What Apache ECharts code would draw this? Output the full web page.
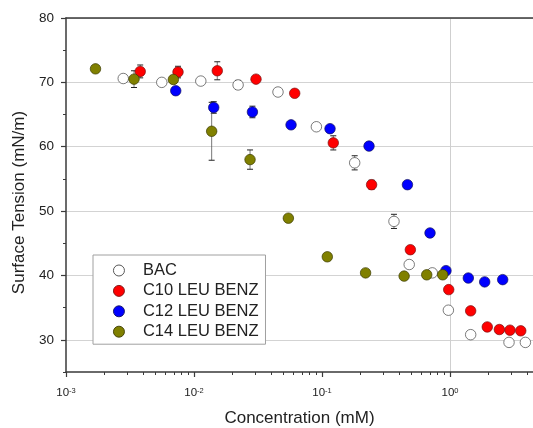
<!DOCTYPE html>
<html>
<head>
<meta charset="utf-8">
<script src="https://cdn.jsdelivr.net/npm/echarts@6/dist/echarts.min.js"></script>
<style>
  html, body { margin: 0; padding: 0; background: #fff; }
  #chart { width: 533px; height: 428px; }
</style>
</head>
<body>
<div id="chart"></div>
<script>
// series names (legend order)
const seriesNames = ['BAC', 'C10 LEU BENZ', 'C12 LEU BENZ', 'C14 LEU BENZ'];

// concentration (mM), surface tension (mN/m), error bar (+/-)
const bacConc    = [0.0028, 0.0056, 0.0113, 0.0221, 0.0453, 0.0904, 0.18, 0.365, 0.48, 0.727, 0.971, 1.45, 2.89, 3.88];
const bacTension = [70.6, 70.0, 70.2, 69.6, 68.5, 63.1, 57.5, 48.4, 41.7, 40.4, 34.6, 30.8, 29.6, 29.6];
const bacErr     = [0, 0, 0.3, 0.7, 0, 0, 1.1, 1.1, 0.6, 0.3, 0, 0.5, 0.3, 0.3];

const c10Conc    = [0.0038, 0.0075, 0.0152, 0.0305, 0.0612, 0.1225, 0.244, 0.49, 0.977, 1.45, 1.955, 2.43, 2.94, 3.57];
const c10Tension = [71.7, 71.6, 71.8, 70.5, 68.3, 60.6, 54.1, 44.0, 37.8, 34.5, 32.0, 31.6, 31.5, 31.4];
const c10Err     = [1.0, 0.9, 1.4, 0, 0, 1.1, 0.7, 0, 0, 0, 0, 0.6, 0, 0];

const c12Conc    = [0.0072, 0.01426, 0.0286, 0.0573, 0.1155, 0.233, 0.465, 0.698, 0.93, 1.39, 1.866, 2.58];
const c12Tension = [68.7, 66.1, 65.4, 63.4, 62.8, 60.1, 54.1, 46.6, 40.75, 39.6, 39.0, 39.35];
const c12Err     = [0, 0.9, 0.9, 0, 0, 0, 0, 0, 0, 0, 0, 0];

const c14Conc    = [0.0017, 0.0034, 0.0069, 0.01374, 0.0274, 0.0546, 0.11, 0.219, 0.438, 0.658, 0.877];
const c14Tension = [72.1, 70.5, 70.45, 62.4, 58.0, 48.9, 42.9, 40.4, 39.9, 40.1, 40.1];
const c14Err     = [0, 1.3, 0.6, 4.5, 1.5, 0, 0, 0, 0, 0, 0];

// axis settings
const xMin = 0.001;
const xMax = 4.45;
const yMin = 25;
const yMax = 80;
const yMajorTicks = [30, 40, 50, 60, 70, 80];
const minorMantissas = [2, 3, 4, 5, 6, 7, 8, 9];
const decades = [-3, -2, -1, 0];

const fontFamily = '"Liberation Sans", Arial, sans-serif';
const axisColor = '#3a3a3a';
const textColor = '#222';

// minor tick positions in log10 space (drawn on an overlay value axis)
let minorTickValues = [];
decades.forEach(d => {
    minorMantissas.forEach(m => {
        let v = Math.log10(m) + d;
        if (v <= Math.log10(xMax)) minorTickValues.push(v);
    });
});

function toPoints(conc, tension){
    return conc.map((c, i) => [c, tension[i]]);
}

function toErrors(conc, tension, err){
    let out = [];
    conc.forEach((c, i) => {
        if (err[i] > 0) out.push([c, tension[i], err[i]]);
    });
    return out;
}

function renderErrorBar(params, api){
    let x = api.value(0);
    let y = api.value(1);
    let e = api.value(2);
    let top = api.coord([x, y + e]);
    let bottom = api.coord([x, y - e]);
    let half = 3;
    let style = { stroke: '#222', lineWidth: 1 };
    return {
        type: 'group',
        children: [
            { type: 'line', shape: { x1: top[0], y1: top[1], x2: bottom[0], y2: bottom[1] }, style: { stroke: '#555', lineWidth: 0.8 } },
            { type: 'line', shape: { x1: top[0] - half, y1: top[1], x2: top[0] + half, y2: top[1] }, style: style },
            { type: 'line', shape: { x1: bottom[0] - half, y1: bottom[1], x2: bottom[0] + half, y2: bottom[1] }, style: style }
        ]
    };
}

function errorSeries(conc, tension, err){
    return {
        type: 'custom',
        renderItem: renderErrorBar,
        xAxisIndex: 0,
        yAxisIndex: 0,
        encode: { x: 0, y: 1 },
        data: toErrors(conc, tension, err),
        z: 1,
        silent: true
    };
}

function scatterSeries(name, conc, tension, fill, border){
    return {
        name: name,
        type: 'scatter',
        xAxisIndex: 0,
        yAxisIndex: 0,
        symbol: 'circle',
        symbolSize: 10.5,
        itemStyle: { color: fill, borderColor: border, borderWidth: 0.7, opacity: 1 },
        data: toPoints(conc, tension),
        z: 3
    };
}

const chart = echarts.init(document.getElementById('chart'));

const option = {
    backgroundColor: '#fff',
    animation: false,
    textStyle: { fontFamily: fontFamily },
    grid: { left: 66, top: 18, right: 0, bottom: 56, containLabel: false, outerBoundsMode: 'none' },
    legend: {
        data: seriesNames,
        orient: 'vertical',
        left: 93,
        top: 255,
        itemWidth: 38,
        itemHeight: 11,
        itemGap: 3.4,
        padding: [7, 7, 4, 20],
        backgroundColor: '#fff',
        borderColor: '#a0a0a0',
        borderWidth: 1,
        borderRadius: 0,
        itemStyle: { borderWidth: 0.9 },
        textStyle: { fontSize: 16.5, lineHeight: 17, color: textColor, fontFamily: fontFamily }
    },
    xAxis: [
        {
            type: 'log',
            logBase: 10,
            min: xMin,
            max: xMax,
            position: 'bottom',
            name: 'Concentration (mM)',
            nameLocation: 'middle',
            nameGap: 38,
            nameTextStyle: { fontSize: 17, color: textColor, fontFamily: fontFamily },
            axisLine: { show: true, onZero: false, lineStyle: { color: axisColor, width: 1.5 } },
            axisTick: { show: true, inside: false, length: 5, lineStyle: { color: axisColor, width: 1.2 } },
            axisLabel: {
                margin: 15,
                showMaxLabel: false,
                formatter: v => '{b|10}{s|' + Math.round(Math.log10(v)) + '}',
                rich: {
                    b: { fontSize: 11.5, color: textColor, fontFamily: fontFamily },
                    s: { fontSize: 7.5, color: textColor, fontFamily: fontFamily, verticalAlign: 'top' }
                }
            },
            splitLine: {
                show: true,
                lineStyle: { color: ['rgba(0,0,0,0)', 'rgba(0,0,0,0)', 'rgba(0,0,0,0)', '#cfcfcf', 'rgba(0,0,0,0)'], width: 1 }
            }
        },
        {
            // overlay axis only for the minor ticks of the log scale
            type: 'value',
            min: -3,
            max: Math.log10(xMax),
            position: 'bottom',
            axisLine: { show: false, onZero: false },
            axisTick: { show: true, inside: false, length: 3, customValues: minorTickValues, lineStyle: { color: axisColor, width: 1 } },
            axisLabel: { show: false },
            splitLine: { show: false }
        },
        {
            // frame line on top
            type: 'value',
            min: 0,
            max: 1,
            position: 'top',
            axisLine: { show: true, onZero: false, lineStyle: { color: axisColor, width: 1.5 } },
            axisTick: { show: false },
            axisLabel: { show: false },
            splitLine: { show: false }
        }
    ],
    yAxis: [
        {
            type: 'value',
            min: yMin,
            max: yMax,
            interval: 5,
            name: 'Surface Tension (mN/m)',
            nameLocation: 'middle',
            nameGap: 30,
            nameTextStyle: { fontSize: 17, color: textColor, fontFamily: fontFamily, padding: [0, 15, 0, 0] },
            axisLine: { show: true, onZero: false, lineStyle: { color: axisColor, width: 1.5 } },
            axisTick: { show: true, inside: false, length: 3, lineStyle: { color: axisColor, width: 1 } },
            axisLabel: {
                margin: 12,
                fontSize: 13.5,
                color: textColor,
                formatter: v => (yMajorTicks.indexOf(v) >= 0 ? String(v) : '')
            },
            splitLine: {
                show: true,
                lineStyle: { color: ['rgba(0,0,0,0)', '#d3d3d3'], width: 1 }
            }
        },
        {
            // overlay axis for the longer major ticks
            type: 'value',
            min: yMin,
            max: yMax,
            position: 'left',
            axisLine: { show: false, onZero: false },
            axisTick: { show: true, inside: false, length: 5, customValues: yMajorTicks, lineStyle: { color: axisColor, width: 1.2 } },
            axisLabel: { show: false },
            splitLine: { show: false }
        }
    ],
    series: [
        errorSeries(bacConc, bacTension, bacErr),
        errorSeries(c10Conc, c10Tension, c10Err),
        errorSeries(c12Conc, c12Tension, c12Err),
        errorSeries(c14Conc, c14Tension, c14Err),
        scatterSeries(seriesNames[0], bacConc, bacTension, '#ffffff', '#444444'),
        scatterSeries(seriesNames[1], c10Conc, c10Tension, '#ff0000', '#7a1010'),
        scatterSeries(seriesNames[2], c12Conc, c12Tension, '#0000ff', '#101060'),
        scatterSeries(seriesNames[3], c14Conc, c14Tension, '#808000', '#3a3a00')
    ]
};

chart.setOption(option);
</script>
</body>
</html>
